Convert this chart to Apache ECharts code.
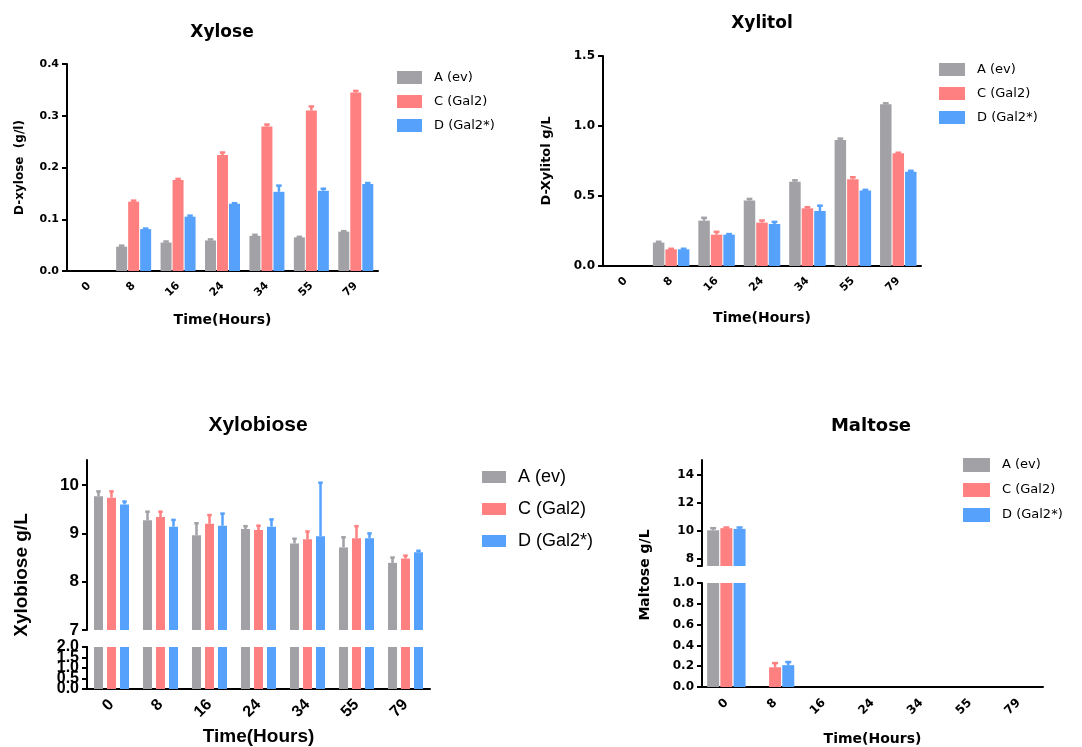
<!DOCTYPE html>
<html>
<head>
<meta charset="utf-8">
<script src="https://cdn.jsdelivr.net/npm/echarts@6/dist/echarts.min.js"></script>
<style>
html, body { margin: 0; padding: 0; background: #fff; }
#main { width: 1082px; height: 747px; }
</style>
</head>
<body>
<div id="main"></div>
<script>
// 数据
var hours = ['0', '8', '16', '24', '34', '55', '79'];
var groups = ['A (ev)', 'C (Gal2)', 'D (Gal2*)'];
var colors = ['#a2a1a6', '#ff8080', '#56a1fc'];

var xyloseA = [0, 0.047, 0.055, 0.059, 0.068, 0.065, 0.076];
var xyloseC = [0, 0.134, 0.176, 0.224, 0.279, 0.310, 0.345];
var xyloseD = [0, 0.081, 0.105, 0.130, 0.153, 0.155, 0.168];
var xyloseErrA = [0, 0.002, 0.002, 0.002, 0.002, 0.001, 0.001];
var xyloseErrC = [0, 0.002, 0.002, 0.005, 0.004, 0.008, 0.003];
var xyloseErrD = [0, 0.001, 0.002, 0.001, 0.012, 0.004, 0.002];

var xylitolA = [0, 0.167, 0.324, 0.467, 0.602, 0.900, 1.155];
var xylitolC = [0, 0.119, 0.224, 0.310, 0.412, 0.619, 0.805];
var xylitolD = [0, 0.119, 0.224, 0.300, 0.393, 0.540, 0.674];
var xylitolErrA = [0, 0.006, 0.020, 0.012, 0.010, 0.010, 0.007];
var xylitolErrC = [0, 0.004, 0.020, 0.015, 0.008, 0.015, 0.004];
var xylitolErrD = [0, 0.004, 0.004, 0.015, 0.038, 0.004, 0.006];

var xylobioseA = [9.77, 9.27, 8.96, 9.09, 8.79, 8.71, 8.39];
var xylobioseC = [9.74, 9.34, 9.20, 9.07, 8.88, 8.90, 8.48];
var xylobioseD = [9.60, 9.14, 9.16, 9.14, 8.94, 8.90, 8.61];
var xylobioseErrA = [0.10, 0.18, 0.25, 0.06, 0.10, 0.21, 0.11];
var xylobioseErrC = [0.13, 0.11, 0.18, 0.09, 0.16, 0.25, 0.06];
var xylobioseErrD = [0.06, 0.14, 0.25, 0.15, 1.11, 0.10, 0.03];

var maltoseA = [10.05, 0, 0, 0, 0, 0, 0];
var maltoseC = [10.20, 0.19, 0, 0, 0, 0, 0];
var maltoseD = [10.15, 0.21, 0, 0, 0, 0, 0];
var maltoseErrA = [0.15, 0, 0, 0, 0, 0, 0];
var maltoseErrC = [0.05, 0.04, 0, 0, 0, 0, 0];
var maltoseErrD = [0.10, 0.03, 0, 0, 0, 0, 0];

var prism = 'DejaVu Sans';
var arial = 'Liberation Sans';

var myChart = echarts.init(document.getElementById('main'));
var series = [];

function addBars(axisIdx, sets, barW, gap) {
    sets.forEach(function (vals, i) {
        series.push({
            type: 'bar', name: groups[i], xAxisIndex: axisIdx, yAxisIndex: axisIdx,
            data: vals, barWidth: barW, barGap: (gap / barW * 100) + '%',
            itemStyle: { color: colors[i] }
        });
    });
}

// 误差线
function addErrors(axisIdx, sets, errs, barW, gap) {
    sets.forEach(function (vals, i) {
        series.push({
            type: 'custom', name: groups[i], xAxisIndex: axisIdx, yAxisIndex: axisIdx,
            itemStyle: { color: colors[i] },
            data: vals.map(function (v, k) { return [k, v, errs[i][k]]; }),
            renderItem: function (params, api) {
                var err = api.value(2);
                if (!err) return null;
                var cs = params.coordSys;
                var p0 = api.coord([api.value(0), api.value(1)]);
                var p1 = api.coord([api.value(0), api.value(1) + err]);
                if (p0[1] < cs.y - 1 || p0[1] > cs.y + cs.height + 1) return null;
                var x = p0[0] + (i - 1) * (barW + gap);
                var cap = barW / 4;
                return {
                    type: 'group', children: [
                        { type: 'line', shape: { x1: x, y1: p0[1], x2: x, y2: p1[1] }, style: { stroke: colors[i], lineWidth: 2.5 } },
                        { type: 'line', shape: { x1: x - cap, y1: p1[1], x2: x + cap, y2: p1[1] }, style: { stroke: colors[i], lineWidth: 2.5 } }
                    ]
                };
            }
        });
    });
}

function catAxis(grid, font, size, margin, extra) {
    var ax = {
        type: 'category', gridIndex: grid, data: hours,
        axisLine: { lineStyle: { color: '#000', width: 2 } },
        axisTick: { alignWithLabel: true, length: 5, lineStyle: { color: '#000', width: 2 } },
        axisLabel: { rotate: 45, interval: 0, color: '#000', fontFamily: font, fontWeight: 'bold', fontSize: size, margin: margin },
        nameTextStyle: { color: '#000', fontFamily: font, fontWeight: 'bold' }
    };
    return Object.assign(ax, extra || {});
}

function valAxis(grid, min, max, interval, font, size, digits, extra) {
    var ax = {
        type: 'value', gridIndex: grid, min: min, max: max, interval: interval, position: 'left',
        splitLine: { show: false },
        axisLine: { show: true, lineStyle: { color: '#000', width: 2 } },
        axisTick: { show: true, length: 5, lineStyle: { color: '#000', width: 2 } },
        axisLabel: {
            color: '#000', fontFamily: font, fontWeight: 'bold', fontSize: size, margin: 8,
            showMinLabel: true, showMaxLabel: true, hideOverlap: false,
            formatter: function (v) { return v.toFixed(digits); }
        },
        nameTextStyle: { color: '#000', fontFamily: font, fontWeight: 'bold' }
    };
    return Object.assign(ax, extra || {});
}

function legendAt(left, top, w, h, gap, font, size, weight) {
    return {
        orient: 'vertical', left: left, top: top, icon: 'rect', padding: 0,
        itemWidth: w, itemHeight: h, itemGap: gap, data: groups,
        textStyle: { color: '#000', fontFamily: font, fontSize: size, fontWeight: weight, padding: [0, 0, 0, 7] }
    };
}

// Xylose
addBars(0, [xyloseA, xyloseC, xyloseD], 11, 1);
addErrors(0, [xyloseA, xyloseC, xyloseD], [xyloseErrA, xyloseErrC, xyloseErrD], 11, 1);
// Xylitol
addBars(1, [xylitolA, xylitolC, xylitolD], 11.5, 1);
addErrors(1, [xylitolA, xylitolC, xylitolD], [xylitolErrA, xylitolErrC, xylitolErrD], 11.5, 1);
// Xylobiose (断轴)
addBars(2, [xylobioseA, xylobioseC, xylobioseD], 9, 4);
addBars(3, [xylobioseA, xylobioseC, xylobioseD], 9, 4);
addErrors(2, [xylobioseA, xylobioseC, xylobioseD], [xylobioseErrA, xylobioseErrC, xylobioseErrD], 9, 4);
// Maltose (断轴)
addBars(4, [maltoseA, maltoseC, maltoseD], 12, 1.2);
addBars(5, [maltoseA, maltoseC, maltoseD], 12, 1.2);
addErrors(4, [maltoseA, maltoseC, maltoseD], [maltoseErrA, maltoseErrC, maltoseErrD], 12, 1.2);
addErrors(5, [maltoseA, maltoseC, maltoseD], [maltoseErrA, maltoseErrC, maltoseErrD], 12, 1.2);

var option = {
    animation: false,
    backgroundColor: '#fff',
    title: [
        { text: 'Xylose', left: 222, top: 24, padding: 0, textAlign: 'center', textStyle: { fontFamily: prism, fontWeight: 'bold', fontSize: 17, color: '#000' } },
        { text: 'Xylitol', left: 762, top: 15, padding: 0, textAlign: 'center', textStyle: { fontFamily: prism, fontWeight: 'bold', fontSize: 17, color: '#000' } },
        { text: 'Xylobiose', left: 258, top: 415, padding: 0, textAlign: 'center', textStyle: { fontFamily: arial, fontWeight: 'bold', fontSize: 21, color: '#000' } },
        { text: 'Maltose', left: 871, top: 417, padding: 0, textAlign: 'center', textStyle: { fontFamily: prism, fontWeight: 'bold', fontSize: 18, color: '#000' } }
    ],
    legend: [
        legendAt(397, 71, 25, 13, 11, prism, 13, 'normal'),
        legendAt(939, 63, 26, 13, 11, prism, 13, 'normal'),
        legendAt(482, 468, 24, 12, 14, arial, 18, 'normal'),
        legendAt(963, 458, 27, 14, 11, prism, 13, 'normal')
    ],
    grid: [
        { left: 67, top: 64, width: 311, height: 207 },
        { left: 603, top: 56, width: 318, height: 210 },
        { left: 87, top: 460, width: 343, height: 170 },
        { left: 87, top: 647, width: 343, height: 42 },
        { left: 702, top: 460, width: 341, height: 106 },
        { left: 702, top: 583, width: 341, height: 104 }
    ],
    xAxis: [
        catAxis(0, prism, 11, 13, { name: 'Time(Hours)', nameLocation: 'middle', nameGap: 42, nameTextStyle: { color: '#000', fontFamily: prism, fontWeight: 'bold', fontSize: 14 } }),
        catAxis(1, prism, 11, 13, { name: 'Time(Hours)', nameLocation: 'middle', nameGap: 45, nameTextStyle: { color: '#000', fontFamily: prism, fontWeight: 'bold', fontSize: 14 } }),
        catAxis(2, arial, 16, 8, { show: false }),
        catAxis(3, arial, 16, 13, { name: 'Time(Hours)', nameLocation: 'middle', nameGap: 38, nameTextStyle: { color: '#000', fontFamily: arial, fontWeight: 'bold', fontSize: 19 } }),
        catAxis(4, prism, 12, 8, { show: false }),
        catAxis(5, prism, 12, 14, { name: 'Time(Hours)', nameLocation: 'middle', nameGap: 45, nameTextStyle: { color: '#000', fontFamily: prism, fontWeight: 'bold', fontSize: 14 } })
    ],
    yAxis: [
        valAxis(0, 0, 0.4, 0.1, prism, 11, 1, { name: 'D-xylose  (g/l)', nameLocation: 'middle', nameRotate: 90, nameGap: 41, nameTextStyle: { color: '#000', fontFamily: prism, fontWeight: 'bold', fontSize: 12 } }),
        valAxis(1, 0, 1.5, 0.5, prism, 12, 1, { name: 'D-Xylitol g/L', nameLocation: 'middle', nameRotate: 90, nameGap: 50, nameTextStyle: { color: '#000', fontFamily: prism, fontWeight: 'bold', fontSize: 13 } }),
        valAxis(2, 7, 10.52, 1, arial, 17, 0),
        valAxis(3, 0, 2, 0.5, arial, 16, 1),
        valAxis(4, 7.5, 15.07, 2, prism, 12, 0),
        valAxis(5, 0, 1, 0.2, prism, 12, 1),
        // 下段重叠的 0.5 / 1.5 刻度
        valAxis(3, 0, 2, 0.5, arial, 16, 1)
    ],
    graphic: [
        { type: 'text', x: 22, y: 575, rotation: Math.PI / 2, style: { text: 'Xylobiose g/L', font: 'bold 19px "Liberation Sans"', fill: '#000', align: 'center', verticalAlign: 'middle', textAlign: 'center', textVerticalAlign: 'middle' } },
        { type: 'text', x: 645, y: 575, rotation: Math.PI / 2, style: { text: 'Maltose g/L', font: 'bold 14px "DejaVu Sans"', fill: '#000', align: 'center', verticalAlign: 'middle', textAlign: 'center', textVerticalAlign: 'middle' } }
    ],
    series: series
};

// 断轴的刻度
option.yAxis[2].axisTick.customValues = [7, 8, 9, 10];
option.yAxis[2].axisLabel.customValues = [7, 8, 9, 10];
option.yAxis[3].axisTick.customValues = [0, 1, 2];
option.yAxis[3].axisLabel.customValues = [0, 1, 2];
option.yAxis[6].axisTick.customValues = [0.5, 1.5];
option.yAxis[6].axisLabel.customValues = [0.5, 1.5];
option.yAxis[4].axisTick.customValues = [7.5, 8, 10, 12, 14];
option.yAxis[4].axisLabel.customValues = [8, 10, 12, 14];

myChart.setOption(option);
</script>
</body>
</html>
